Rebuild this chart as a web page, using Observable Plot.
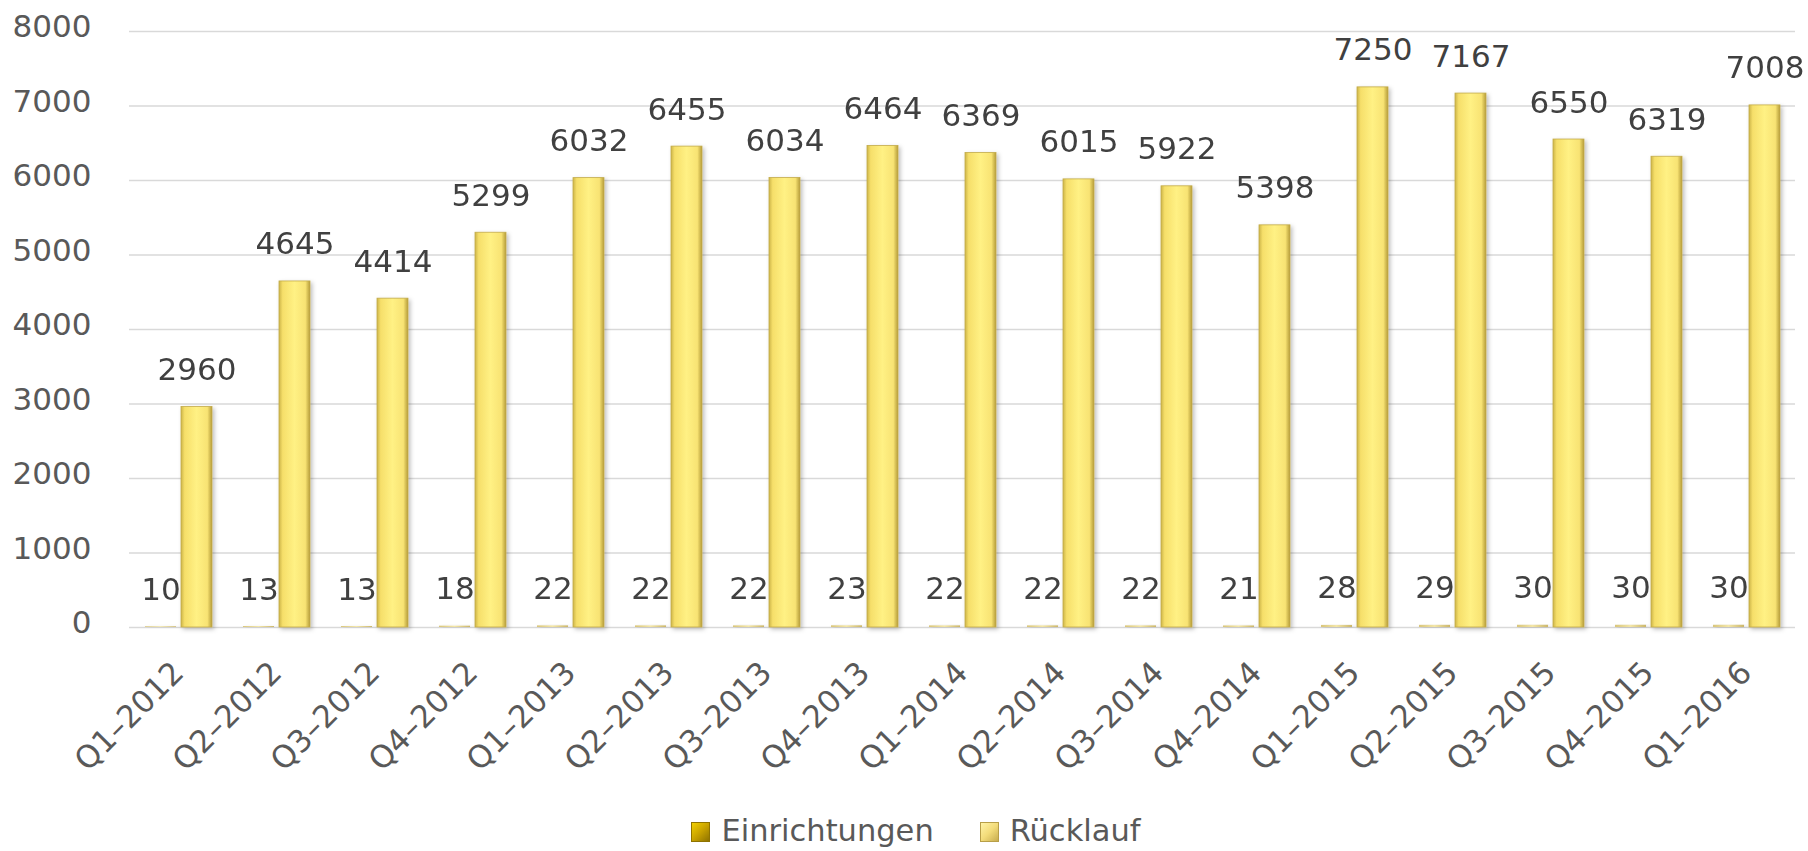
<!DOCTYPE html>
<html>
<head>
<meta charset="utf-8">
<script src="https://cdn.jsdelivr.net/npm/d3@7"></script>
<script src="https://cdn.jsdelivr.net/npm/@observablehq/plot@0.6"></script>
<style>
  html, body { margin: 0; padding: 0; background: #fff; }
  body { width: 1808px; height: 851px; overflow: hidden; font-family: "DejaVu Sans", sans-serif; }
  #legend { display: flex; justify-content: center; align-items: center; gap: 46px; height: 44px; margin-left: 24px; font-size: 30.5px; color: #595959; }
  .item { display: flex; align-items: center; gap: 11px; }
  .sw { width: 17px; height: 18px; display: inline-block; margin-top: 4px; }
</style>
</head>
<body>
<div id="chart"></div>
<div id="legend"></div>
<script>
const categories = ["Q1–2012","Q2–2012","Q3–2012","Q4–2012","Q1–2013","Q2–2013","Q3–2013","Q4–2013","Q1–2014","Q2–2014","Q3–2014","Q4–2014","Q1–2015","Q2–2015","Q3–2015","Q4–2015","Q1–2016"];
const seriesNames = ["Einrichtungen", "Rücklauf"];
const einrichtungen = [10,13,13,18,22,22,22,23,22,22,22,21,28,29,30,30,30];
const ruecklauf = [2960,4645,4414,5299,6032,6455,6034,6464,6369,6015,5922,5398,7250,7167,6550,6319,7008];
const yTicks = [0,1000,2000,3000,4000,5000,6000,7000,8000];

const rowsE = categories.map((c, i) => ({cat: c, series: seriesNames[0], value: einrichtungen[i]}));
const rowsR = categories.map((c, i) => ({cat: c, series: seriesNames[1], value: ruecklauf[i]}));
const rows = rowsE.concat(rowsR);

const chart = Plot.plot({
  width: 1808,
  height: 808,
  marginLeft: 129,
  marginRight: 13,
  marginTop: 31,
  marginBottom: 181,
  style: {fontFamily: "DejaVu Sans, sans-serif", fontSize: "30px", color: "#595959", background: "#fff", overflow: "visible"},
  fx: {domain: categories, padding: 0, label: null, axis: null},
  x: {domain: seriesNames, paddingInner: 0.139, paddingOuter: 0.43, axis: null},
  y: {domain: [0, 8000], label: null, axis: null},
  marks: [
    Plot.gridY(yTicks, {stroke: "#d9d9d9", strokeOpacity: 1, strokeWidth: 1.6}),
    Plot.axisY(yTicks, {tickSize: 0, tickPadding: 38, dy: -4, fontSize: 31, fill: "#595959", label: null, tickFormat: d => String(d)}),
    Plot.axisFx({anchor: "bottom", tickSize: 0, tickRotate: -45, tickPadding: 40, fontSize: 31, fill: "#595959", label: null}),
    Plot.barY(rowsE, {fx: "cat", x: "series", y: "value", fill: "url(#gE)"}),
    Plot.barY(rowsR, {fx: "cat", x: "series", y: "value", fill: "url(#gR)", stroke: "#c2ab4a", strokeWidth: 0.8}),
    Plot.text(rows, {fx: "cat", x: "series", y: "value", text: d => String(d.value), lineAnchor: "bottom", dy: -27, fontSize: 31, fill: "#404040"})
  ]
});

// gradients + shadow
const ns = "http://www.w3.org/2000/svg";
const svg = chart.tagName.toLowerCase() === "svg" ? chart : chart.querySelector("svg");
const defs = document.createElementNS(ns, "defs");
defs.innerHTML = `
  <linearGradient id="gR" x1="0" x2="1" y1="0" y2="0">
    <stop offset="0" stop-color="#cdb54a"/>
    <stop offset="0.12" stop-color="#f6df6a"/>
    <stop offset="0.5" stop-color="#fff184"/>
    <stop offset="0.85" stop-color="#f8e373"/>
    <stop offset="1" stop-color="#b59c3a"/>
  </linearGradient>
  <linearGradient id="gE" x1="0" x2="1" y1="0" y2="0">
    <stop offset="0" stop-color="#d8c57a"/>
    <stop offset="0.5" stop-color="#f3e6a8"/>
    <stop offset="1" stop-color="#cbb66a"/>
  </linearGradient>
  <filter id="shadow" x="-20%" y="-5%" width="150%" height="115%">
    <feDropShadow dx="2" dy="2" stdDeviation="2" flood-color="#000" flood-opacity="0.25"/>
  </filter>`;
svg.insertBefore(defs, svg.firstChild);
svg.querySelectorAll('g[aria-label="bar"]').forEach(g => g.setAttribute("filter", "url(#shadow)"));
document.getElementById("chart").appendChild(chart);

// legend
const legend = document.getElementById("legend");
const legendFills = [
  "linear-gradient(135deg, #f2d000 0%, #c9a300 50%, #8f7300 100%)",
  "linear-gradient(135deg, #fff3a6 0%, #f3dc7a 50%, #c8ad4f 100%)"
];
seriesNames.forEach((name, i) => {
  const item = document.createElement("div");
  item.className = "item";
  const sw = document.createElement("span");
  sw.className = "sw";
  sw.style.background = legendFills[i];
  sw.style.border = "1px solid " + (i === 0 ? "#8f7300" : "#b89f48");
  const t = document.createElement("span");
  t.textContent = name;
  item.appendChild(sw); item.appendChild(t);
  legend.appendChild(item);
});
</script>
</body>
</html>
